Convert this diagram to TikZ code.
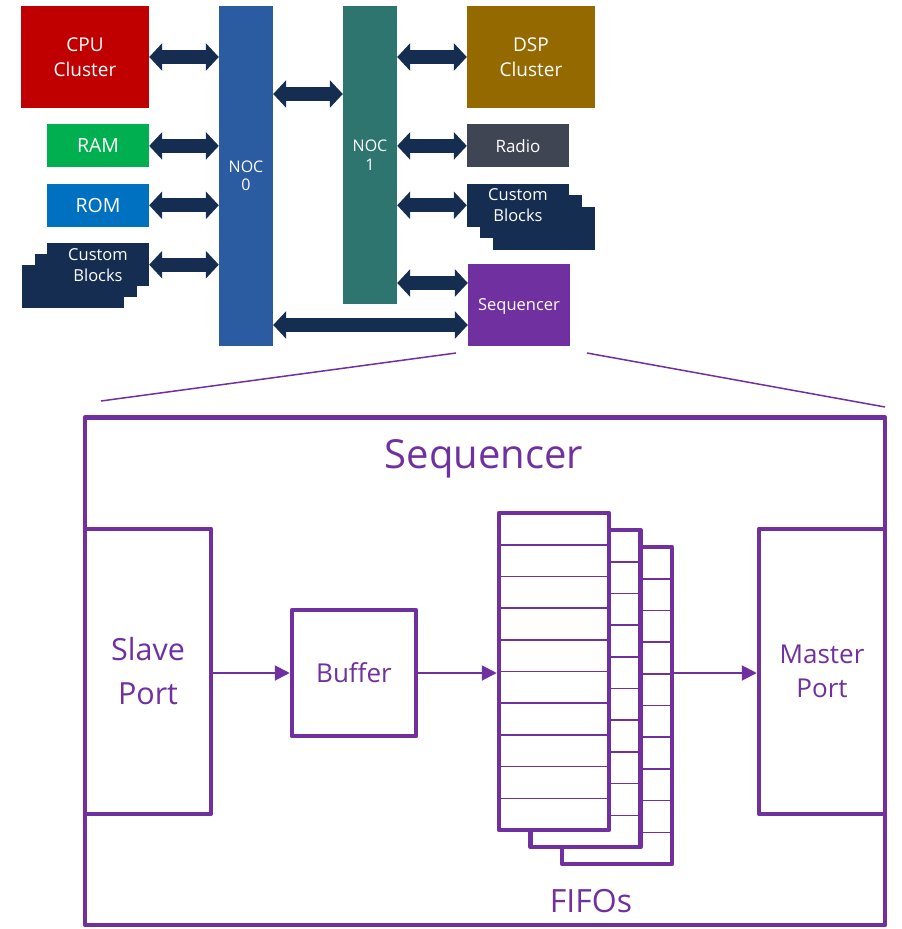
\documentclass[tikz,border=0pt]{standalone}
\usepackage{fontspec}
\setmainfont{Open Sans}
\usetikzlibrary{arrows.meta,positioning,shadows}

\definecolor{cpured}{RGB}{192,0,0}
\definecolor{ramgreen}{RGB}{0,176,80}
\definecolor{romblue}{RGB}{0,112,192}
\definecolor{busnavy}{RGB}{21,45,80}
\definecolor{noczero}{RGB}{43,91,160}
\definecolor{nocone}{RGB}{46,117,112}
\definecolor{dspgold}{RGB}{148,106,0}
\definecolor{radiogray}{RGB}{63,69,82}
\definecolor{seqpurple}{RGB}{112,48,160}

\tikzset{
  chip/.style={rectangle, inner sep=0pt, align=center, text=white},
  cluster/.style={chip, minimum width=128pt, minimum height=102pt, font=\fontsize{19}{25}\selectfont},
  device/.style={chip, minimum width=102pt, minimum height=43pt, font=\fontsize{19.5}{24}\selectfont},
  stack/.style={device, fill=busnavy, font=\fontsize{16.5}{21}\selectfont,
    double copy shadow={#1, fill=busnavy, draw=none}},
  noc/.style={chip, minimum width=54pt, font=\fontsize{16}{18.5}\selectfont},
  bus/.style={busnavy, line width=14pt, {Triangle[width=27pt,length=13pt]}-{Triangle[width=27pt,length=13pt]}},
  part/.style={draw=seqpurple, line width=4.5pt, line join=round, inner sep=0pt, align=center, text=seqpurple},
  flow/.style={seqpurple, line width=2pt, -{Triangle[width=15pt,length=15pt]}},
}

\begin{document}
\begin{tikzpicture}[x=1pt, y=-1pt, node distance=16pt]
  \useasboundingbox (0,0) rectangle (902,929);

  % system level
  \node[cluster, fill=cpured] (cpu) at (85,57) {CPU\\Cluster};
  \node[device, fill=ramgreen, below=of cpu.south east, anchor=north east] (ram) {RAM};
  \node[device, fill=romblue, below=of ram] (rom) {ROM};
  \node[stack={shadow xshift=-12.5pt, shadow yshift=-11pt}, below=of rom] (custl) {Custom\\Blocks};

  \node[noc, fill=noczero, minimum height=340pt] (noc0) at (246,176) {NOC\\0};
  \node[noc, fill=nocone, minimum height=298pt] (noc1) at (370,155) {NOC\\1};

  \node[cluster, fill=dspgold] (dsp) at (531,57) {DSP\\Cluster};
  \node[device, fill=radiogray, below=of dsp.south west, anchor=north west, font=\fontsize{17}{21}\selectfont] (radio) {Radio};
  \node[stack={shadow xshift=13pt, shadow yshift=-11.5pt}, below=of radio] (custr) {Custom\\Blocks};
  \node[device, fill=seqpurple, minimum height=82pt, text depth=0pt, font=\fontsize{16.5}{21}\selectfont] (seqs) at (519,305) {Sequencer};

  \coordinate (link) at (0,94);
  \coordinate (seqhi) at ([yshift=22pt]seqs.west);
  \coordinate (seqlo) at ([yshift=-20pt]seqs.west);

  \draw[bus] (cpu.east) -- (noc0.west |- cpu.east);
  \draw[bus] (ram.east) -- (noc0.west |- ram.east);
  \draw[bus] (rom.east) -- (noc0.west |- rom.east);
  \draw[bus] (custl.east) -- (noc0.west |- custl.east);
  \draw[bus] (noc0.east |- link) -- (noc1.west |- link);
  \draw[bus] (noc1.east |- dsp.west) -- (dsp.west);
  \draw[bus] (noc1.east |- radio.west) -- (radio.west);
  \draw[bus] (noc1.east |- custr.west) -- (custr.west);
  \draw[bus] (noc1.east |- seqhi) -- (seqhi);
  \draw[bus] (noc0.east |- seqlo) -- (seqlo);

  % zoom lines
  \coordinate (fanl) at (456,353);
  \coordinate (fanr) at (587,353);
  \coordinate (framel) at (101,401);
  \coordinate (framer) at (885,407);
  \draw[seqpurple, line width=1.5pt] (fanl) -- (framel);
  \draw[seqpurple, line width=1.5pt] (fanr) -- (framer);

  % sequencer detail
  \node[part, minimum width=800pt, minimum height=507.5pt] (frame) at (485,671.25) {};
  \node[text=seqpurple, font=\fontsize{40}{48}\selectfont, anchor=base] (title) at (484,468) {Sequencer};

  \node[part, minimum width=126pt, minimum height=285pt, anchor=west,
        font=\fontsize{30.5}{44}\selectfont] (slave) at (frame.west) {Slave\\Port};
  \node[part, minimum width=126pt, minimum height=285pt, anchor=east,
        font=\fontsize{26}{34}\selectfont] (master) at (frame.east) {Master\\Port};
  \node[part, minimum width=124pt, minimum height=126pt,
        font=\fontsize{26}{31}\selectfont] (buffer) at (354,673) {Buffer};

  \foreach \k in {2,1,0} {
    \begin{scope}[shift={(31.5*\k,17*\k)}]
      \node[part, fill=white, minimum width=110pt, minimum height=317pt] (fifo\k) at (554,671.5) {};
      \foreach \r in {1,...,9}
        \draw[seqpurple, line width=1.6pt] (499,{513+31.7*\r}) -- (609,{513+31.7*\r});
    \end{scope}
  }
  \node[text=seqpurple, font=\fontsize{32}{38}\selectfont, anchor=base] (fifolabel) at (591,912) {FIFOs};

  \draw[flow] (slave.east |- buffer.west) -- (buffer.west);
  \draw[flow] (buffer.east) -- (fifo0.west |- buffer.east);
  \draw[flow] (fifo2.east |- buffer.east) -- (master.west |- buffer.east);
\end{tikzpicture}
\end{document}
